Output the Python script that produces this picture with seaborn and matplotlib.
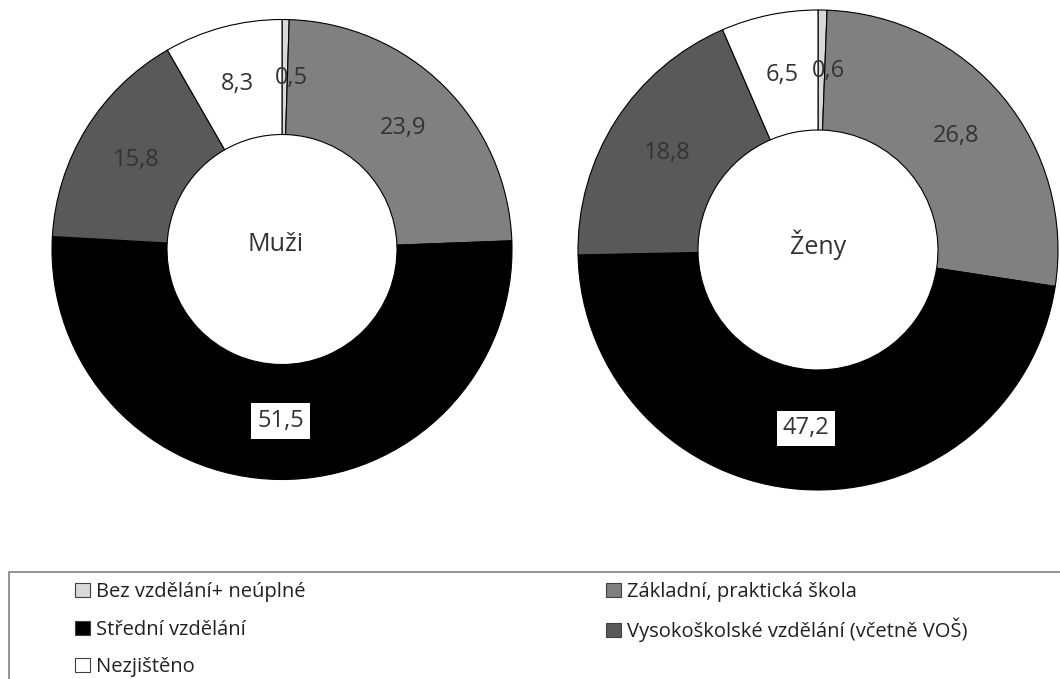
import matplotlib
matplotlib.use("Agg")
import matplotlib.pyplot as plt
import matplotlib.patches as mpatches
import seaborn as sns
import numpy as np

# data
categories = ['Bez vzdělání+ neúplné', 'Základní, praktická škola', 'Střední vzdělání',
              'Vysokoškolské vzdělání (včetně VOŠ)', 'Nezjištěno']
muzi = [0.5, 23.9, 51.5, 15.8, 8.3]
zeny = [0.6, 26.8, 47.2, 18.8, 6.5]
titles = ['Muži', 'Ženy']
colors = ['#d9d9d9', '#808080', '#000000', '#595959', '#ffffff']

sns.set_style("white")
plt.rcParams['font.family'] = ['Open Sans', 'DejaVu Sans']

W, H = 1060, 679
fig = plt.figure(figsize=(W / 100, H / 100), dpi=100)

# donut placement in pixels: (center x, center y from top, radius)
spots = [(282, 249.5, 230), (818, 250, 240)]
title_dx = [-0.03, 0.0]
txt_col = '#333333'

for vals, title, (cx, cy, r), tdx in zip([muzi, zeny], titles, spots, title_dx):
    ax = fig.add_axes([(cx - r) / W, (H - cy - r) / H, 2 * r / W, 2 * r / H])
    wedges, _ = ax.pie(vals, colors=colors, startangle=90, counterclock=False,
                       radius=1, wedgeprops=dict(width=0.5, edgecolor='black', linewidth=0.8))
    ax.set_xlim(-1, 1)
    ax.set_ylim(-1, 1)
    ax.set_aspect('equal')
    ax.axis('off')
    for w, v, c in zip(wedges, vals, colors):
        ang = np.deg2rad((w.theta1 + w.theta2) / 2)
        x, y = 0.745 * np.cos(ang), 0.745 * np.sin(ang)
        if v < 1:
            x += 0.03
        kw = {}
        if c == '#000000':
            kw['bbox'] = dict(boxstyle='square,pad=0.25', fc='white', ec='none')
        ax.text(x, y, f"{v:.1f}".replace('.', ','), ha='center', va='center',
                fontsize=17, color=txt_col, **kw)
    ax.text(tdx, 0.02, title, ha='center', va='center', fontsize=18, color=txt_col)

# legend frame (runs off the bottom/right of the figure)
frame = mpatches.Rectangle((9 / W, -0.05), 1.1, (H - 572) / H + 0.05, transform=fig.transFigure,
                           fill=False, edgecolor='#808080', linewidth=1.2)
fig.patches.append(frame)

# legend entries placed on a 2-column grid, row centres at fixed pixel heights
col_x = [75, 606]
row_y = [592, 630, 667]
for i, (lab, c) in enumerate(zip(categories, colors)):
    col, row = i % 2, i // 2
    h = mpatches.Patch(facecolor=c, edgecolor='#404040', linewidth=0.8)
    fig.legend([h], [lab], loc='center left', bbox_to_anchor=(col_x[col] / W, (H - row_y[row]) / H),
               frameon=False, fontsize=14.5, handlelength=0.72, handleheight=0.72,
               handletextpad=0.3, borderpad=0, borderaxespad=0, labelcolor='#202020')

fig.savefig('out.png', dpi=100)
